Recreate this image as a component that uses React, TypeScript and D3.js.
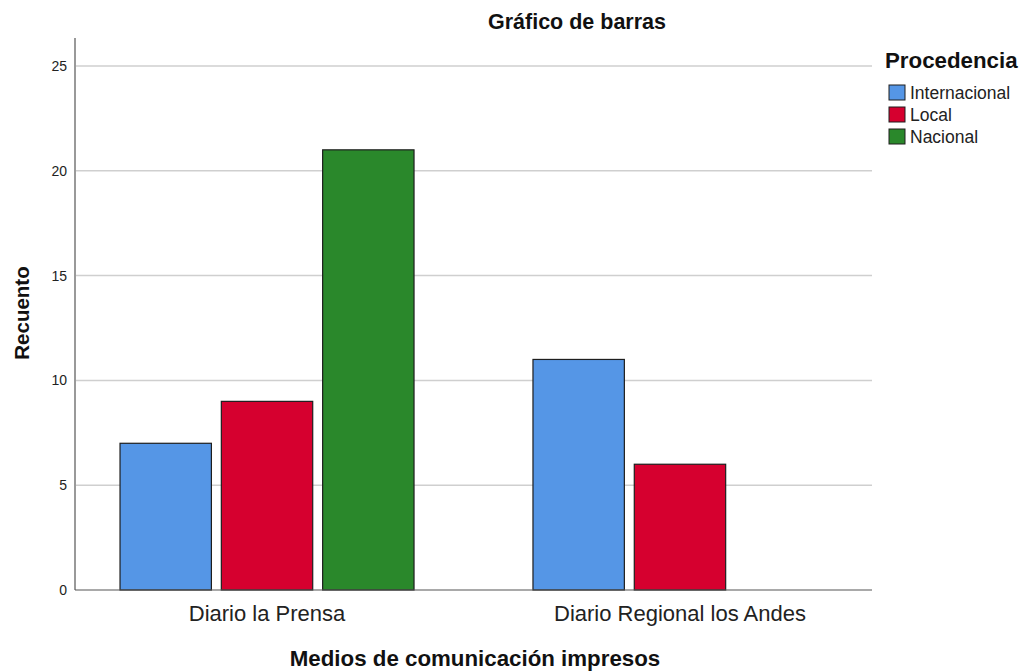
import React from "react";
import * as d3 from "d3";

const categories = ["Diario la Prensa", "Diario Regional los Andes"];
const series = ["Internacional", "Local", "Nacional"];
const valuesInternacional = [7, 11];
const valuesLocal = [9, 6];
const valuesNacional = [21, 0];
const seriesColors = ["#5596e6", "#d6002f", "#2a882b"];
const yTicks = [0, 5, 10, 15, 20, 25];

const W = 1021, H = 671;
const left = 75, right = 872, top = 38, bottom = 590;

export default function App() {
  const y = d3.scaleLinear().domain([0, 25]).range([bottom, 66]);
  const x0 = d3.scalePoint<string>().domain(categories).range([left, right]).padding(0.465);
  const x1 = d3.scaleBand<string>().domain(series).range([-147, 147]).paddingInner(0.098).paddingOuter(0);
  const data = [valuesInternacional, valuesLocal, valuesNacional];
  const font = "Liberation Sans, Arial, sans-serif";
  return (
    <svg width={W} height={H} style={{ position: "absolute", left: 0, top: 0, background: "#fff" }} fontFamily={font}>
      <text x={577} y={29} textAnchor="middle" fontWeight="bold" fontSize={21.5} fill="#111">Gráfico de barras</text>
      {yTicks.filter(t => t > 0).map(t => (
        <line key={t} x1={left} x2={right} y1={y(t)} y2={y(t)} stroke="#cfcfcf" strokeWidth={1.5} />
      ))}
      {yTicks.map(t => (
        <text key={"l" + t} x={67} y={y(t) + 5} textAnchor="end" fontSize={14} fill="#222">{t}</text>
      ))}
      {categories.map((c, ci) =>
        series.map((s, si) => {
          const v = data[si][ci];
          if (!v) return null;
          const bx = (x0(c) as number) + (x1(s) as number);
          return (
            <rect key={c + s} x={bx} y={y(v)} width={x1.bandwidth()} height={bottom - y(v)}
              fill={seriesColors[si]} stroke="#1e1e1e" strokeWidth={1.2} />
          );
        })
      )}
      <line x1={left} x2={left} y1={top} y2={bottom} stroke="#999" strokeWidth={2} />
      <line x1={left} x2={right} y1={bottom} y2={bottom} stroke="#555" strokeWidth={1.2} />
      {categories.map(c => (
        <text key={c} x={x0(c) as number} y={621} textAnchor="middle" fontSize={22} fill="#222">{c}</text>
      ))}
      <text x={475} y={666} textAnchor="middle" fontWeight="bold" fontSize={22.3} fill="#111">Medios de comunicación impresos</text>
      <text transform={`translate(29,${313}) rotate(-90)`} textAnchor="middle" fontWeight="bold" fontSize={20.5} fill="#111">Recuento</text>
      <text x={885} y={68} fontWeight="bold" fontSize={22.3} fill="#111">Procedencia</text>
      {series.map((s, i) => (
        <g key={s} transform={`translate(889,${85 + i * 22})`}>
          <rect x={0} y={0} width={16} height={15} fill={seriesColors[i]} stroke="#1e1e1e" strokeWidth={1} />
          <text x={21} y={14} fontSize={17.5} fill="#222">{s}</text>
        </g>
      ))}
    </svg>
  );
}
